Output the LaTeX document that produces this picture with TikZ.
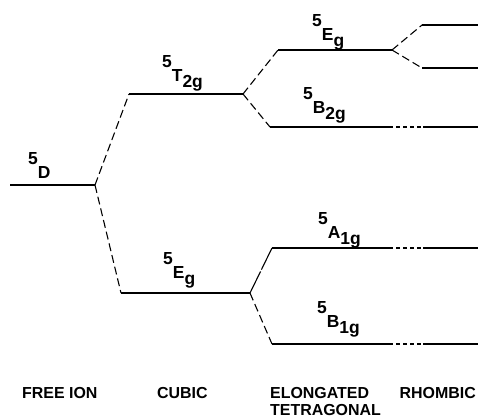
\documentclass[tikz,border=0pt]{standalone}
\usepackage{fontspec}
\setmainfont{Liberation Sans}
\usetikzlibrary{positioning}

\newcommand{\tsym}[2]{\raisebox{0.75em}{5}#1\raisebox{-0.4em}{#2}}

\begin{document}
\begin{tikzpicture}[x=1bp,y=-1bp,
  state/.style={line width=1.8pt},
  link/.style={line width=1.1pt,dash pattern=on 8bp off 4bp},
  gapdash/.style={line width=1.8pt,dash pattern=on 0bp off 3bp on 4bp off 3bp on 4bp off 3bp on 4bp off 3bp on 4bp off 2bp},
  term/.style={inner sep=0pt,anchor=base west,font=\bfseries\fontsize{17.5}{17.5}\selectfont},
  stage/.style={inner sep=0pt,anchor=base west,font=\bfseries\fontsize{16}{18}\selectfont}]
\useasboundingbox (0,0) rectangle (479,418);
% levels, left and right ends
\coordinate (fi-l) at (10,185);  \coordinate (fi-r) at (95,185);
\coordinate (t2-l) at (129,94);  \coordinate (t2-r) at (243,94);
\coordinate (ec-l) at (121,293); \coordinate (ec-r) at (250,293);
\coordinate (et-l) at (278,50);  \coordinate (et-r) at (392,50);
\coordinate (b2-l) at (270,127); \coordinate (b2-r) at (478,127);
\coordinate (a1-l) at (272,248); \coordinate (a1-r) at (478,248);
\coordinate (b1-l) at (272,344); \coordinate (b1-r) at (478,344);
\coordinate (r1-l) at (422,25);  \coordinate (r1-r) at (478,25);
\coordinate (r2-l) at (422,68);  \coordinate (r2-r) at (478,68);
\coordinate (gap-l) at (393,0);  \coordinate (gap-r) at (423,0);
\foreach \s in {fi,t2,ec,et,r1,r2}
  \draw[state] (\s-l) -- (\s-r);
\foreach \s in {b2,a1,b1}{
  \draw[state] (\s-l) -- (\s-l -| gap-l);
  \draw[gapdash] (\s-l -| gap-l) -- (\s-l -| gap-r);
  \draw[state] (\s-l -| gap-r) -- (\s-r);
}
% splittings
\draw[link] (fi-r) -- (t2-l);
\draw[link] (fi-r) -- (ec-l);
\draw[link] (t2-r) -- (et-l);
\draw[link] (t2-r) -- (b2-l);
\draw[link,dash pattern=on 24bp off 2bp] (ec-r) -- (a1-l);
\draw[link] (ec-r) -- (b1-l);
\draw[link] (et-r) -- (r1-l);
\draw[link] (et-r) -- (r2-l);
% term symbols
\node[term] (fi-t) at (28,178) {\tsym{D}{}};
\node[term] (t2-t) at (162,81) {\tsym{T}{2g}};
\node[term] (ec-t) at (163,278) {\tsym{E}{g}};
\node[term] (et-t) at (312,40) {\tsym{E}{g}};
\node[term] (b2-t) at (303,113) {\tsym{B}{2g}};
\node[term] (a1-t) at (318,238) {\tsym{A}{1g}};
\node[term] (b1-t) at (317,327) {\tsym{B}{1g}};
% symmetry labels
\node[stage] (fi-s) at (22,398) {FREE ION};
\node[stage] (cu-s) at (157,398) {CUBIC};
\node[stage] (el-s) at (270,398) {ELONGATED};
\node[stage] (te-s) at (270,415) {TETRAGONAL};
\node[stage,anchor=base east] (rh-s) at (476,398) {RHOMBIC};
\end{tikzpicture}
\end{document}
